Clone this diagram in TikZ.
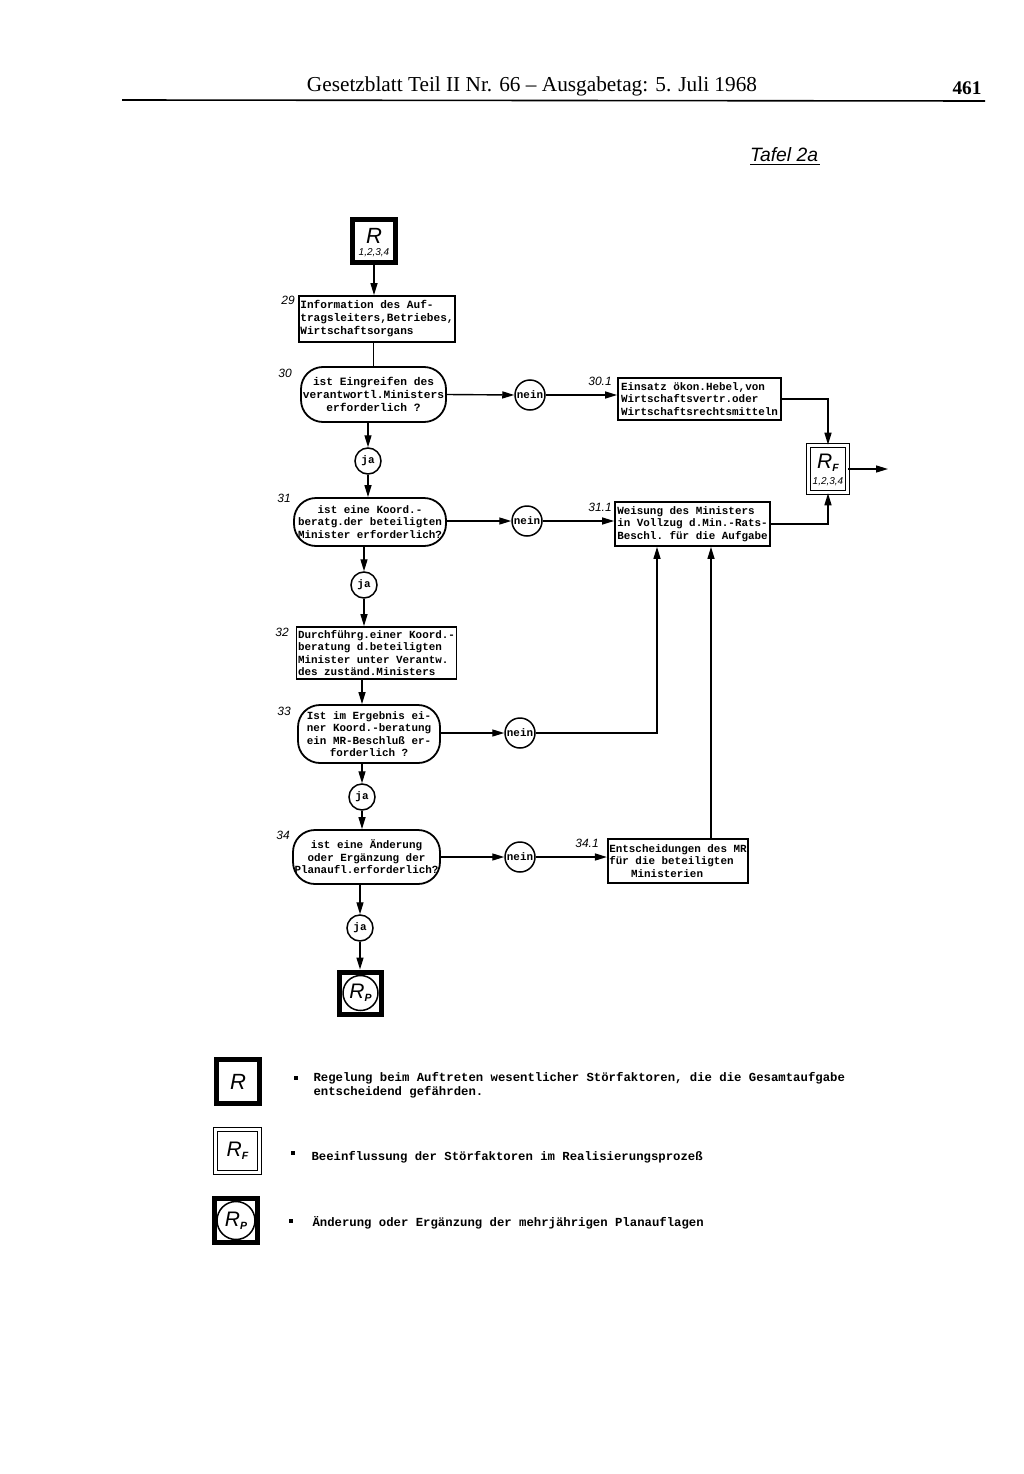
\documentclass[tikz,border=0pt]{standalone}
\usepackage{fontspec}
\setmainfont{Liberation Serif}
\setsansfont{Liberation Sans}
\setmonofont{Liberation Mono}
\usetikzlibrary{arrows.meta}
\tikzset{
  tw/.style={font=\ttfamily\bfseries\fontsize{10.9}{12.6}\selectfont},
  twl/.style={font=\ttfamily\bfseries\fontsize{11.1}{13}\selectfont},
  twm/.style={font=\ttfamily\bfseries\fontsize{11.2}{12.8}\selectfont},
  procbox/.style={draw, line width=1.8pt, inner sep=1.5pt, tw, align=left},
  decbox/.style={draw, line width=1.8pt, rounded corners=22pt, inner sep=1pt, tw, align=center},
  yesno/.style={circle, draw, line width=1.5pt, inner sep=0pt, minimum size=26pt, tw},
  neinc/.style={yesno, minimum size=30pt},
  conn/.style={line width=1.4pt},
  arr/.style={conn, -{Triangle[length=12pt,width=7pt]}},
  numlab/.style={font=\sffamily\itshape\fontsize{12}{12}\selectfont},
  rbox/.style={draw, line width=5pt, minimum width=43pt, minimum height=43pt, inner sep=0pt, align=center},
  rfbox/.style={draw, line width=1.6pt, double=white, double distance=2.2pt, inner sep=0pt, align=center},
  legtext/.style={font=\ttfamily\bfseries\fontsize{12.3}{13.5}\selectfont, align=left, anchor=west},
  bul/.style={fill, minimum size=4.5pt, inner sep=0pt},
  inner/.style={inner sep=0pt}
}
\newcommand{\RR}{{\sffamily\itshape\fontsize{22}{22}\selectfont R}}
\newcommand{\Rsub}[1]{{\sffamily\itshape\fontsize{21}{21}\selectfont R\raisebox{-3pt}{\bfseries\fontsize{10.5}{10.5}\selectfont #1}}}
\newcommand{\nums}{{\sffamily\itshape\fontsize{10}{10}\selectfont 1,2,3,4}}
\begin{document}
\begin{tikzpicture}[x=1pt,y=-1pt]
\useasboundingbox (0,0) rectangle (1024,1474);
% header
\node (hdr) at (532,86) {\resizebox{450pt}{!}{Gesetzblatt Teil II Nr. 66 -- Ausgabetag: 5. Juli 1968}};
\node (pg) at (967,88) {\resizebox{29pt}{!}{\bfseries 461}};
\draw[line width=1.6pt] (122,100) -- (985,101);
\node (taf) at (784,155) {\resizebox{68pt}{!}{\sffamily\itshape Tafel 2a}};
\draw[line width=1pt] (750,165) -- (820,165);

% main column
\node[rbox] (R) at (374,241) {};
\node[inner] (Rt) at ([yshift=5pt]R.center) {\RR};
\node[inner] (Rn) at ([yshift=-12pt]R.center) {\nums};
\node[procbox, twl, minimum width=152pt, minimum height=46pt] (b29) at (377,319) {Information des Auf-\\tragsleiters,Betriebes,\\Wirtschaftsorgans};
\node[decbox, twm, minimum width=145pt, minimum height=55pt] (d30) at (373.5,394.5) {ist Eingreifen des\\verantwortl.Ministers\\erforderlich ?};
\node[neinc] (n30) at (530,395) {nein};
\node[procbox, minimum width=163pt, minimum height=42pt] (b301) at (699.5,399) {Einsatz ökon.Hebel,von\\Wirtschaftsvertr.oder\\Wirtschaftsrechtsmitteln};
\node[rfbox, minimum width=39pt, minimum height=47pt] (RF) at (828,469) {};
\node[inner] (RFt) at ([yshift=6pt]RF.center) {\Rsub{F}};
\node[inner] (RFn) at ([yshift=-13pt]RF.center) {\nums};
\coordinate (rfout) at (888,469);
\node[yesno] (j30) at (368,461) {ja};
\node[decbox, minimum width=152pt, minimum height=48pt] (d31) at (370,522) {ist eine Koord.-\\beratg.der beteiligten\\Minister erforderlich?};
\node[neinc] (n31) at (527,521) {nein};
\node[procbox, minimum width=155pt, minimum height=44pt] (b311) at (692.5,524) {Weisung des Ministers\\in Vollzug d.Min.-Rats-\\Beschl. für die Aufgabe};
\node[yesno] (j31) at (364,585) {ja};
\node[procbox, minimum width=155pt, minimum height=52pt] (b32) at (376.5,653) {Durchführg.einer Koord.-\\beratung d.beteiligten\\Minister unter Verantw.\\des zuständ.Ministers};
\node[decbox, minimum width=142pt, minimum height=58pt] (d33) at (369,734) {Ist im Ergebnis ei-\\ner Koord.-beratung\\ein MR-Beschluß er-\\forderlich ?};
\node[neinc] (n33) at (520,733) {nein};
\coordinate (c33) at (657,733);
\node[yesno] (j33) at (362,797) {ja};
\node[decbox, minimum width=147pt, minimum height=54pt] (d34) at (366.5,857) {ist eine Änderung\\oder Ergänzung der\\Planaufl.erforderlich?};
\node[neinc] (n34) at (520,857) {nein};
\node[procbox, minimum width=140pt, minimum height=44pt] (b341) at (678,861) {Entscheidungen des MR\\für die beteiligten\\\hspace*{2em}Ministerien};
\coordinate (c34) at (711,861);
\node[yesno] (j34) at (360,928) {ja};
\node[rbox, minimum width=42pt, minimum height=42pt] (Rp) at (360.5,993) {};
\node[circle, draw, line width=1.5pt, minimum size=35pt, inner sep=0pt] (rpc) at (Rp) {\Rsub{P}};

% number labels
\node[numlab] (l29) at (288,300) {29};
\node[numlab] (l30) at (285,373) {30};
\node[numlab] (l301) at (600,381) {30.1};
\node[numlab] (l31) at (284,498) {31};
\node[numlab] (l311) at (600,507) {31.1};
\node[numlab] (l32) at (282,632) {32};
\node[numlab] (l33) at (284,711) {33};
\node[numlab] (l34) at (283,835) {34};
\node[numlab] (l341) at (587,843) {34.1};

% connectors
\draw[arr] (R.south) -- (R.south |- b29.north);
\draw[conn] (b29.south -| d30.north) -- (d30.north);
\draw[arr] (d30.east) -- (n30.west);
\draw[arr] (n30.east) -- (b301.west |- n30);
\draw[arr] (b301.east) -| (RF.north);
\draw[arr] (RF.east) -- (rfout);
\draw[arr] (j30 |- d30.south) -- (j30.north);
\draw[arr] (j30.south) -- (j30 |- d31.north);
\draw[arr] (d31.east |- n31) -- (n31.west);
\draw[arr] (n31.east) -- (b311.west |- n31);
\draw[arr] (b311.east) -| (RF.south);
\draw[arr] (j31 |- d31.south) -- (j31.north);
\draw[arr] (j31.south) -- (j31 |- b32.north);
\draw[arr] (d33.north -| j33) ++(0,-24) -- (d33.north -| j33);
\draw[arr] (d33.east |- n33) -- (n33.west);
\draw[arr] (n33.east) -- (c33) -- (c33 |- b311.south);
\draw[arr] (j33 |- d33.south) -- (j33.north);
\draw[arr] (j33.south) -- (j33 |- d34.north);
\draw[arr] (d34.east |- n34) -- (n34.west);
\draw[arr] (n34.east) -- (b341.west |- n34);
\draw[arr] (c34 |- b341.north) -- (c34 |- b311.south);
\draw[arr] (j34 |- d34.south) -- (j34.north);
\draw[arr] (j34.south) -- (j34 |- Rp.north);

% legend
\node[rbox, minimum width=43pt, minimum height=44pt] (LR) at (238,1081.5) {\RR};
\node[rfbox, minimum width=44pt, minimum height=43pt] (LRF) at (237.5,1151) {\Rsub{F}};
\node[rbox, minimum width=43pt, minimum height=44pt] (LRp) at (236,1220.5) {};
\node[circle, draw, line width=1.5pt, minimum size=38pt, inner sep=0pt] (lrpc) at (LRp) {\Rsub{P}};
\node[bul] (b1) at (296,1078) {};
\node[bul] (b2) at (293,1153) {};
\node[bul] (b3) at (291,1221) {};
\node[legtext] (t1) at (310,1085) {Regelung beim Auftreten wesentlicher Störfaktoren, die die Gesamtaufgabe\\entscheidend gefährden.};
\node[legtext] (t2) at (308,1157) {Beeinflussung der Störfaktoren im Realisierungsprozeß};
\node[legtext] (t3) at (309,1223) {Änderung oder Ergänzung der mehrjährigen Planauflagen};
\end{tikzpicture}
\end{document}
